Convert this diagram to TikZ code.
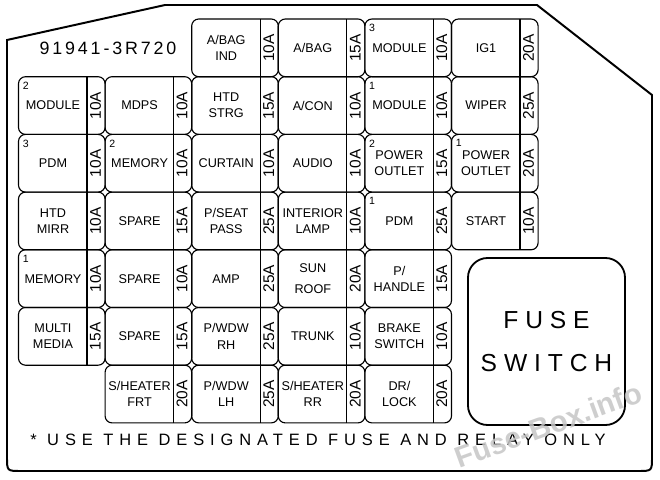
\documentclass[tikz,border=0pt]{standalone}
\usepackage{fontspec}
\setmainfont{Liberation Sans}
\tikzset{
  fusecell/.style={draw,line width=0.8pt,rounded corners=5pt,inner sep=0pt,
    minimum width=2.165cm,minimum height=1.4425cm},
  fusename/.style={font=\fontsize{9}{11.5}\selectfont,align=center,inner sep=0pt},
  amps/.style={font=\fontsize{11}{11}\selectfont,rotate=90,inner sep=0pt},
  supnum/.style={font=\fontsize{7.5}{7.5}\selectfont,inner sep=0pt,anchor=north west},
  partno/.style={font=\fontsize{12.7}{14}\selectfont\addfontfeatures{LetterSpace=16}},
  notetext/.style={font=\fontsize{11.7}{14}\selectfont\addfontfeatures{LetterSpace=36}},
  switchbox/.style={draw,line width=1.3pt,rounded corners=14pt,minimum width=3.925cm,
    minimum height=4.175cm,align=center,
    font=\fontsize{17.5}{31}\selectfont\addfontfeatures{LetterSpace=28}},
  watermark/.style={font=\fontsize{21}{24}\bfseries\selectfont,text=gray!45,rotate=20,opacity=0.85}
}
% col, row, name, rating, small number
\newcommand{\fuse}[5]{%
  \pgfmathsetmacro\fx{18.5+(#1-1)*86.6}%
  \pgfmathsetmacro\fy{19+(#2-1)*57.7}%
  \node[fusecell] (c#1#2) at (\fx+43.3,\fy+28.85) {};%
  \draw[line width=0.8pt] (\fx+68.5,\fy) -- (\fx+68.5,\fy+57.7);%
  \node[fusename] (n#1#2) at (\fx+34.5,\fy+28.85) {#3};%
  \node[amps] (a#1#2) at (\fx+77,\fy+28.85) {#4};%
  \if\relax\detokenize{#5}\relax\else
    \node[supnum] (s#1#2) at (\fx+4,\fy+5) {#5};\fi%
}

\begin{document}
\begin{tikzpicture}[x=0.025cm,y=-0.025cm]
  \useasboundingbox (0,0) rectangle (660,480);
  \draw[line width=1.4pt] (7,40) -- (165,5) -- (537,5) -- (652,95) -- (652,457)
    .. controls (652,471) .. (638,471) -- (21,471) .. controls (7,471) .. (7,457) -- cycle;
  \node[partno] (partno) at (108,48) {91941-3R720};

  \fuse{3}{1}{A/BAG\\IND}{10A}{}
  \fuse{4}{1}{A/BAG}{15A}{}
  \fuse{5}{1}{MODULE}{10A}{3}
  \fuse{6}{1}{IG1}{20A}{}

  \fuse{1}{2}{MODULE}{10A}{2}
  \fuse{2}{2}{MDPS}{10A}{}
  \fuse{3}{2}{HTD\\STRG}{15A}{}
  \fuse{4}{2}{A/CON}{10A}{}
  \fuse{5}{2}{MODULE}{10A}{1}
  \fuse{6}{2}{WIPER}{25A}{}

  \fuse{1}{3}{PDM}{10A}{3}
  \fuse{2}{3}{MEMORY}{10A}{2}
  \fuse{3}{3}{CURTAIN}{10A}{}
  \fuse{4}{3}{AUDIO}{10A}{}
  \fuse{5}{3}{POWER\\OUTLET}{15A}{2}
  \fuse{6}{3}{POWER\\OUTLET}{20A}{1}

  \fuse{1}{4}{HTD\\MIRR}{10A}{}
  \fuse{2}{4}{SPARE}{15A}{}
  \fuse{3}{4}{P/SEAT\\PASS}{25A}{}
  \fuse{4}{4}{INTERIOR\\LAMP}{10A}{}
  \fuse{5}{4}{PDM}{25A}{1}
  \fuse{6}{4}{START}{10A}{}

  \fuse{1}{5}{MEMORY}{10A}{1}
  \fuse{2}{5}{SPARE}{10A}{}
  \fuse{3}{5}{AMP}{25A}{}
  \fuse{4}{5}{SUN\\[3pt]ROOF}{20A}{}
  \fuse{5}{5}{P/\\HANDLE}{15A}{}

  \fuse{1}{6}{MULTI\\MEDIA}{15A}{}
  \fuse{2}{6}{SPARE}{15A}{}
  \fuse{3}{6}{P/WDW\\RH}{25A}{}
  \fuse{4}{6}{TRUNK}{10A}{}
  \fuse{5}{6}{BRAKE\\SWITCH}{10A}{}

  \fuse{2}{7}{S/HEATER\\FRT}{20A}{}
  \fuse{3}{7}{P/WDW\\LH}{25A}{}
  \fuse{4}{7}{S/HEATER\\RR}{20A}{}
  \fuse{5}{7}{DR/\\LOCK}{20A}{}

  \node[switchbox] (fswitch) at (546.5,341.5) {FUSE\\SWITCH};
  \node[notetext] (note) at (318,440) {* USE THE DESIGNATED FUSE AND RELAY ONLY};
  \node[watermark] (wm) at (548,425) {Fuse-Box.info};
\end{tikzpicture}
\end{document}
